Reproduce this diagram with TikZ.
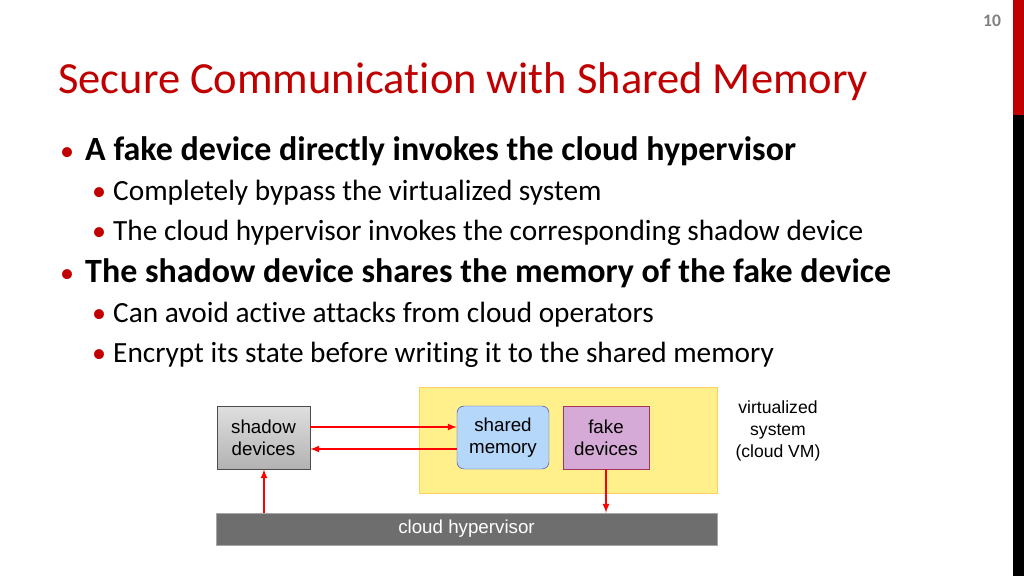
\documentclass[tikz,border=0pt]{standalone}
\usepackage{fontspec}
\setmainfont{Carlito}[Ligatures=NoCommon]
\newfontfamily\diagfont{Liberation Sans}
\usetikzlibrary{positioning}
\definecolor{titleRed}{RGB}{192,0,0}
\definecolor{vmYellow}{RGB}{255,240,140}
\definecolor{memBlue}{RGB}{180,215,250}
\definecolor{fakePurple}{RGB}{214,170,214}
\definecolor{hvGray}{RGB}{110,110,110}
\tikzset{
    lvlOne/.style={anchor=base west, inner sep=0pt, font=\fontsize{29}{32}\selectfont\bfseries},
    lvlTwo/.style={anchor=base west, inner sep=0pt, font=\fontsize{25}{28}\selectfont},
    dotOne/.style={anchor=base west, inner sep=0pt, font=\fontsize{24}{28}\selectfont, text=titleRed},
    boxBase/.style={draw, inner sep=0pt, font=\diagfont\fontsize{16}{19}\selectfont, align=center},
    redArrow/.style={->, >=latex, draw=red, line width=1.6pt},
}
\begin{document}
\begin{tikzpicture}[x=0.03cm, y=-0.03cm]
    \useasboundingbox (0,0) rectangle (1024,576);

    % header
    \fill[titleRed] (1013,0) rectangle (1024,115);
    \fill[black] (1013,115) rectangle (1024,576);
    \node[font=\fontsize{15}{16}\selectfont\bfseries, text=gray] (pageNum) at (992,21) {10};
    \node[anchor=base west, inner sep=0pt, text=titleRed, font=\fontsize{38}{40}\selectfont] (title) at (58,93) {Secure Communication with Shared Memory};

    % bullets
    \node[dotOne] at (60,160) {•};
    \node[lvlOne] (b1) at (85,160) {A fake device directly invokes the cloud hypervisor};
    \node[dotOne] at (92,200) {•};
    \node[lvlTwo] (b11) at (113,200) {Completely bypass the virtualized system};
    \node[dotOne] at (92,240) {•};
    \node[lvlTwo] (b12) at (113,240) {The cloud hypervisor invokes the corresponding shadow device};
    \node[dotOne] at (60,282) {•};
    \node[lvlOne] (b2) at (85,282) {The shadow device shares the memory of the fake device};
    \node[dotOne] at (92,322) {•};
    \node[lvlTwo] (b21) at (113,322) {Can avoid active attacks from cloud operators};
    \node[dotOne] at (92,362) {•};
    \node[lvlTwo] (b22) at (113,362) {Encrypt its state before writing it to the shared memory};

    % diagram
    \node[boxBase, draw=vmYellow!70!orange, fill=vmYellow, minimum width=298*0.03cm, minimum height=106*0.03cm] (vm) at (568,440) {};
    \node[boxBase, draw=black!70, top color=gray!25, bottom color=gray!60, minimum width=93*0.03cm, minimum height=63*0.03cm] (shadow) at (263.5,437.5) {shadow\\devices};
    \node[boxBase, draw=blue!50!gray, fill=memBlue, rounded corners=6pt, minimum width=92*0.03cm, minimum height=63*0.03cm] (mem) at (503,437.5) {shared\\memory};
    \node[boxBase, draw=purple!60!gray, fill=fakePurple, minimum width=86*0.03cm, minimum height=63*0.03cm] (fake) at (606,437.5) {fake\\devices};
    \node[boxBase, draw=gray!70, fill=hvGray, text=white, minimum width=501*0.03cm, minimum height=32*0.03cm] (hv) at (466.5,529) {cloud hypervisor};
    \node[font=\diagfont\fontsize{15}{19}\selectfont, align=center] (vmLabel) at (778,431) {virtualized\\system\\(cloud VM)};

    \draw[redArrow] (shadow.east |- 0,427) -- (mem.west |- 0,427);
    \draw[redArrow] (mem.west |- 0,449) -- (shadow.east |- 0,449);
    \draw[redArrow] (hv.north -| 264,0) -- (shadow.south -| 264,0);
    \draw[redArrow] (fake.south) -- (hv.north -| fake.south);
\end{tikzpicture}
\end{document}
